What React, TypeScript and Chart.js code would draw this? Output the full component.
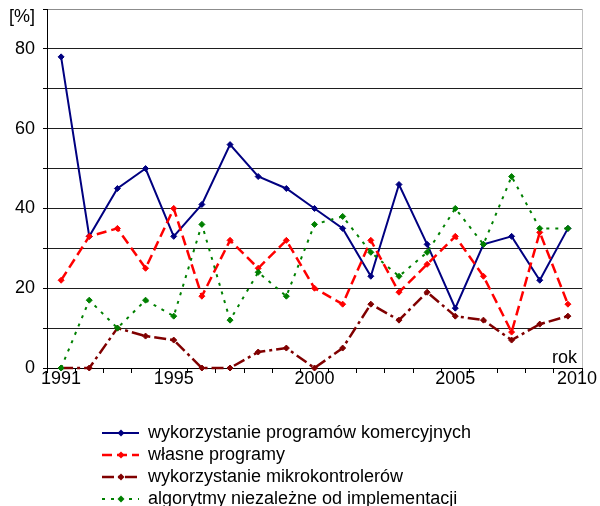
import React, { useEffect, useRef } from 'react';
import { Chart, registerables } from 'chart.js';

Chart.register(...registerables);

// ---- data ----
const years = [
  '1991', '1992', '1993', '1994', '1995', '1996', '1997', '1998', '1999', '2000',
  '2001', '2002', '2003', '2004', '2005', '2006', '2007', '2008', '2009',
];
const commercialPrograms = [78, 33, 45, 50, 33, 41, 56, 48, 45, 40, 35, 23, 46, 31, 15, 31, 33, 22, 35];
const ownPrograms = [22, 33, 35, 25, 40, 18, 32, 25, 32, 20, 16, 32, 19, 26, 33, 23, 9, 34, 16];
const microcontrollers = [0, 0, 10, 8, 7, 0, 0, 4, 5, 0, 5, 16, 12, 19, 13, 12, 7, 11, 13];
const independentAlgorithms = [0, 17, 10, 17, 13, 36, 12, 24, 18, 36, 38, 29, 23, 29, 40, 31, 48, 35, 35];

const seriesLabels = [
  'wykorzystanie programów komercyjnych',
  'własne programy',
  'wykorzystanie mikrokontrolerów',
  'algorytmy niezależne od implementacji',
];

const xShownLabels = ['1991', '1995', '2000', '2005'];
const xEndLabel = '2010';
const yShownValues = [0, 20, 40, 60, 80];
const yUnitLabel = '[%]';
const xAxisName = 'rok';

const FONT = '"Liberation Sans", Arial, Helvetica, sans-serif';

type SeriesStyle = { color: string; width: number; dash: number[] };
const seriesStyles: SeriesStyle[] = [
  { color: '#000080', width: 2, dash: [] },
  { color: '#ff0000', width: 2.5, dash: [10, 5] },
  { color: '#800000', width: 2.5, dash: [12, 4, 3, 4] },
  { color: '#008000', width: 2, dash: [3, 6] },
];

function makeLegendImage(s: SeriesStyle): HTMLCanvasElement {
  const c = document.createElement('canvas');
  c.width = 128;
  c.height = 10;
  const g = c.getContext('2d')!;
  g.strokeStyle = s.color;
  g.lineWidth = s.width;
  g.setLineDash(s.dash);
  g.beginPath();
  g.moveTo(91, 5);
  g.lineTo(128, 5);
  g.stroke();
  g.setLineDash([]);
  g.fillStyle = s.color;
  g.beginPath();
  g.moveTo(106.5, 5);
  g.lineTo(110, 1.5);
  g.lineTo(113.5, 5);
  g.lineTo(110, 8.5);
  g.closePath();
  g.fill();
  return c;
}

const extraTexts = {
  id: 'extraTexts',
  afterDraw(chart: any) {
    const { ctx, chartArea } = chart;
    const xs = chart.scales.x;
    ctx.save();
    ctx.fillStyle = '#000';
    ctx.font = `18px ${FONT}`;
    ctx.textAlign = 'right';
    ctx.textBaseline = 'middle';
    ctx.fillText(yUnitLabel, chartArea.left - 12, chartArea.top + 8);
    ctx.fillText(xEndLabel, chartArea.right + 15, xs.top + 5 - 3 + 9);
    ctx.textBaseline = 'alphabetic';
    ctx.fillText(xAxisName, chartArea.right - 5, chartArea.bottom - 5);
    ctx.restore();
  },
};

export default function App() {
  const ref = useRef<HTMLCanvasElement>(null);

  useEffect(() => {
    const canvas = ref.current;
    if (!canvas) return;
    const values = [commercialPrograms, ownPrograms, microcontrollers, independentAlgorithms];
    const legendImages = seriesStyles.map(makeLegendImage);

    const datasets = values.map((data, i) => {
      const s = seriesStyles[i];
      return {
        label: seriesLabels[i],
        data,
        borderColor: s.color,
        backgroundColor: s.color,
        borderWidth: s.width,
        borderDash: s.dash,
        borderCapStyle: 'butt' as const,
        pointStyle: 'rectRot' as const,
        pointRadius: 3,
        pointBorderWidth: 1,
        pointBorderColor: s.color,
        pointBackgroundColor: s.color,
        tension: 0,
        fill: false,
        clip: false as const,
        order: values.length - i,
      };
    });

    const tickFont = { family: FONT, size: 18, lineHeight: 1 };
    const yTickFont = { family: FONT, size: 18, lineHeight: '2px' };

    const chart = new Chart(canvas, {
      type: 'line',
      data: { labels: years, datasets },
      options: {
        animation: false,
        responsive: false,
        devicePixelRatio: 1,
        layout: { padding: { left: 7, right: 18, top: 0, bottom: 0 } },
        events: [],
        plugins: {
          tooltip: { enabled: false },
          legend: {
            position: 'bottom',
            align: 'start',
            labels: {
              usePointStyle: true,
              pointStyleWidth: 128,
              padding: 4,
              color: '#000',
              font: tickFont,
              generateLabels: (c: any) => {
                const items = (Chart.defaults.plugins.legend.labels as any).generateLabels(c);
                items.sort((a: any, b: any) => a.datasetIndex - b.datasetIndex);
                items.forEach((it: any) => {
                  it.pointStyle = legendImages[it.datasetIndex];
                });
                return items;
              },
            },
          },
        },
        scales: {
          x: {
            type: 'category',
            offset: true,
            grid: {
              offset: true,
              drawOnChartArea: true,
              color: (c: any) => (c.type === 'scale' ? '#c0c0c0' : 'rgba(0,0,0,0)'),
              tickColor: '#000',
              tickLength: 5,
              lineWidth: 1,
            },
            border: { display: true, color: '#000', width: 1 },
            ticks: {
              autoSkip: false,
              maxRotation: 0,
              minRotation: 0,
              padding: -3,
              color: '#000',
              font: tickFont,
              callback: (_v: any, i: number) => (xShownLabels.includes(years[i]) ? years[i] : ''),
            },
            afterFit: (s: any) => {
              s.height = 52;
            },
          },
          y: {
            min: 0,
            max: 90,
            grid: {
              color: (c: any) => (c.tick && c.tick.value === 90 ? '#8c8c8c' : '#1e1e1e'),
              tickColor: '#000',
              tickLength: 4,
              lineWidth: 1,
            },
            border: { display: true, color: '#000', width: 1 },
            ticks: {
              stepSize: 10,
              padding: 8,
              color: '#000',
              font: yTickFont as any,
              callback: (v: any) => (yShownValues.includes(Number(v)) ? String(v) : ''),
            },
          },
        },
      },
      plugins: [extraTexts],
    });
    return () => chart.destroy();
  }, []);

  return (
    <div
      style={{
        position: 'absolute',
        left: 0,
        top: 0,
        width: 600,
        height: 506,
        overflow: 'hidden',
        background: '#fff',
      }}
    >
      <canvas ref={ref} width={600} height={518} style={{ display: 'block', width: 600, height: 518 }} />
    </div>
  );
}
